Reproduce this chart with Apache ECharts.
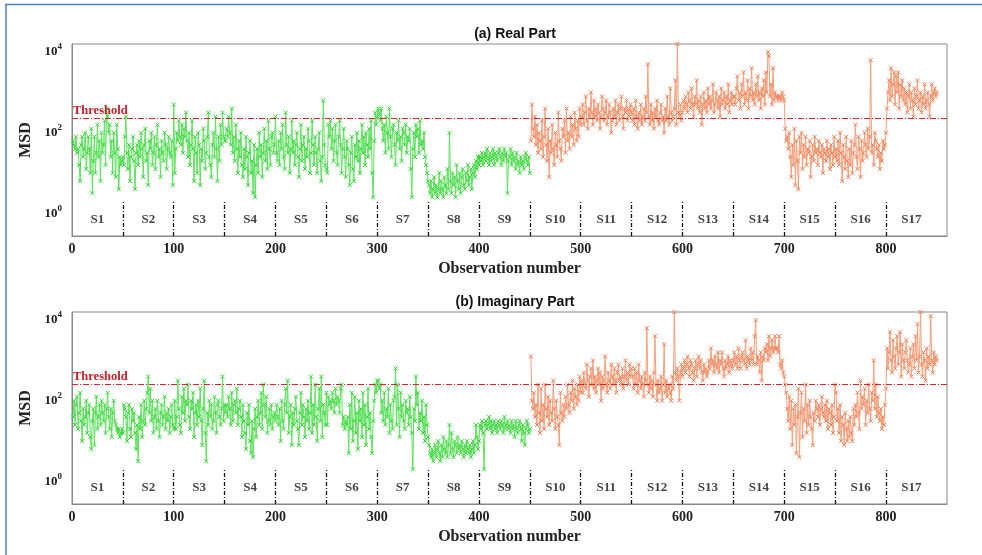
<!DOCTYPE html>
<html>
<head>
<meta charset="utf-8">
<script src="https://cdn.jsdelivr.net/npm/echarts@6/dist/echarts.min.js"></script>
<style>
html,body{margin:0;padding:0;background:#fff;}
#main{width:982px;height:555px;}
</style>
</head>
<body>
<div id="main"></div>
<script>
// 每段50个观测值, 数值为 log10(MSD)
var segNames = ['S1','S2','S3','S4','S5','S6','S7','S8','S9','S10','S11','S12','S13','S14','S15','S16','S17'];
var segLen = 50;
var xTicks = [0,100,200,300,400,500,600,700,800];
var yTicks = [0,2,4]; // 10^0, 10^2, 10^4
var thresholdLog = [2.36, 2.42]; // (a) (b)

var realMsdLog = [
 [1.8,1.7,1.6,1.9,1.5,1.6,1.2,0.8,1.7,1.9,1.4,1.6,2.0,1.1,1.5,1.9,1.6,1.0,2.1,0.5,1.3,1.9,1.0,1.5,2.2,1.4,1.8,0.8,2.0,1.5,1.7,2.3,1.2,2.6,2.4,2.0,2.2,1.4,1.8,1.0,2.0,1.5,0.9,2.2,1.6,0.6,1.4,1.2,1.3,1.4],
 [1.2,1.9,2.4,1.5,1.1,1.7,0.8,1.4,1.6,1.9,1.3,0.6,1.5,1.7,1.2,1.8,1.4,2.0,1.6,0.9,1.7,2.1,1.3,1.5,0.7,1.8,1.6,2.0,1.2,1.5,1.9,1.1,1.7,2.2,1.4,1.6,0.9,1.8,1.5,1.3,2.0,1.7,1.1,1.6,1.9,1.5,1.4,1.8,0.7,2.7],
 [1.0,1.6,2.0,1.8,2.3,1.9,1.7,2.2,1.5,2.1,1.9,2.5,1.8,1.4,2.0,1.2,1.7,2.3,1.6,0.8,1.9,1.5,1.0,2.0,1.7,0.7,1.6,1.3,2.1,1.8,1.1,1.5,1.9,2.5,1.4,1.2,0.9,1.7,2.0,1.4,2.4,1.6,0.8,1.9,1.3,2.2,1.7,2.5,1.9,1.8],
 [1.8,2.1,1.9,2.4,2.0,1.7,2.6,1.5,1.9,1.3,2.2,1.6,1.0,1.8,1.4,2.0,1.2,0.9,1.6,1.1,1.9,1.4,0.7,1.5,1.8,1.0,1.3,0.5,1.7,0.4,1.2,1.6,1.0,2.0,1.4,1.7,0.9,1.5,2.1,1.3,1.8,1.1,2.3,1.6,1.2,1.9,2.0,1.5,1.7,2.4],
 [1.5,1.3,1.8,1.2,2.0,1.6,2.2,1.4,1.1,2.5,1.7,1.5,1.9,1.0,1.6,2.3,1.5,1.8,1.2,1.7,2.0,1.4,0.9,1.6,2.2,1.3,1.7,1.9,1.1,1.6,1.4,2.1,1.8,1.0,1.5,2.3,1.7,1.2,1.9,1.5,1.0,1.6,2.0,1.3,0.8,1.4,2.8,1.7,1.2,1.1],
 [1.0,2.2,1.9,2.3,1.6,2.1,1.3,1.8,2.2,1.5,1.2,1.9,2.3,1.7,1.0,1.6,2.1,1.4,0.9,1.8,1.6,1.2,0.7,1.5,1.9,1.1,0.8,1.7,1.4,2.0,1.3,1.8,1.0,1.6,2.2,1.5,1.9,1.2,2.0,1.7,1.4,2.1,1.6,2.3,1.0,0.4,1.8,2.5,2.2,2.4],
 [2.6,2.5,2.3,2.6,2.1,1.8,2.2,1.5,2.4,2.0,1.6,2.6,1.9,1.4,2.1,2.2,1.7,1.2,2.0,1.8,2.3,1.6,1.9,1.3,2.1,2.0,1.7,2.2,1.5,1.9,1.8,2.1,1.1,0.4,1.6,2.0,1.4,2.2,1.9,2.1,1.5,2.3,1.7,1.8,1.6,2.0,1.4,1.2,1.0,0.8],
 [0.7,0.5,0.8,0.4,0.6,0.9,0.5,0.7,0.4,0.6,1.0,0.5,0.8,0.6,0.4,0.9,0.7,0.5,1.1,0.6,2.0,0.8,0.5,1.0,0.7,0.9,0.4,1.2,0.8,0.6,1.0,0.5,0.9,1.1,0.7,0.6,1.0,0.8,1.2,0.7,0.9,1.1,0.6,1.0,1.2,0.9,1.3,1.1,1.4,1.2],
 [1.4,1.3,1.5,1.2,1.4,1.5,1.3,1.6,1.4,1.2,1.5,1.3,1.4,1.6,1.2,1.5,1.4,1.3,1.5,1.6,1.4,1.2,1.5,1.3,1.6,1.4,1.5,0.5,1.3,1.4,1.6,1.2,1.5,1.3,1.4,1.1,1.5,1.2,1.3,1.0,1.4,1.2,1.3,1.1,1.4,1.5,1.3,1.2,1.4,1.0],
 [1.8,2.7,2.1,1.9,2.4,1.7,2.2,1.5,2.0,1.8,1.6,2.3,1.4,1.9,2.6,1.7,1.3,2.1,0.9,1.8,1.5,2.2,1.6,1.2,2.0,1.7,1.4,2.5,1.8,1.6,1.3,2.1,1.9,2.3,1.5,2.6,1.8,2.0,1.6,2.4,1.9,2.2,1.7,2.5,2.1,1.8,2.3,1.9,2.6,2.2],
 [2.4,2.7,2.2,2.5,2.9,2.3,2.1,2.6,2.4,3.0,2.5,2.2,2.8,2.4,2.6,2.3,2.7,2.5,2.1,2.4,2.9,2.6,2.3,2.5,2.8,2.2,2.4,2.7,2.5,2.0,2.3,2.6,2.4,2.8,2.2,2.5,2.7,2.3,2.6,2.9,2.4,2.1,2.6,2.5,2.8,2.3,2.6,2.4,2.7,2.5],
 [2.3,2.6,2.2,2.8,2.4,2.1,2.5,2.3,2.7,2.2,2.4,2.6,2.3,2.9,2.5,3.7,2.4,2.2,2.7,2.3,2.5,2.1,2.6,2.4,2.8,2.3,2.2,2.5,2.7,2.3,2.4,2.0,2.6,2.3,2.9,2.4,2.2,3.1,2.5,2.3,2.4,2.6,3.3,2.2,4.2,2.5,2.4,2.7,2.3,2.5],
 [2.8,2.6,2.9,2.7,2.5,3.0,2.8,2.6,3.1,2.7,2.4,2.9,2.7,3.3,2.6,2.8,2.5,2.9,2.2,2.7,3.0,2.6,2.8,2.5,3.1,2.7,2.9,2.6,2.8,3.2,2.5,2.7,3.0,2.8,2.6,2.9,2.4,3.1,2.7,2.8,3.0,2.6,2.9,2.7,3.2,2.5,2.8,3.0,2.7,2.9],
 [2.9,2.7,3.1,3.4,2.8,3.0,2.6,3.2,2.9,3.5,2.7,3.0,2.8,3.3,2.6,3.1,2.9,3.6,2.8,3.0,2.7,3.2,2.9,3.4,2.8,3.0,2.6,3.1,2.9,3.3,2.7,3.5,3.0,4.0,3.9,2.9,3.2,2.7,3.6,2.8,3.0,2.9,2.9,2.8,2.9,2.9,2.8,3.0,2.9,2.8],
 [2.1,1.8,1.9,1.6,2.0,1.4,0.9,1.7,1.2,2.1,0.7,1.8,1.3,0.6,1.9,1.5,2.0,1.1,1.7,1.4,1.9,1.2,1.6,1.5,1.8,0.9,1.4,1.7,1.3,1.9,1.5,1.6,1.2,1.8,1.5,1.4,1.7,1.0,1.6,1.5,1.3,1.8,1.4,1.6,1.1,1.7,1.5,1.2,1.9,1.4],
 [1.6,1.3,1.8,1.2,2.0,1.5,0.8,1.7,1.4,1.1,1.9,1.3,0.9,1.6,1.2,1.8,1.0,1.5,1.7,2.2,1.4,1.1,1.9,1.6,0.9,1.8,1.3,1.5,2.0,1.7,1.4,2.1,1.6,1.9,3.8,1.5,1.7,1.2,2.0,1.8,1.6,1.4,1.7,1.1,1.5,1.3,1.8,1.6,1.7,2.0],
 [2.6,3.0,3.3,2.8,3.6,2.9,3.2,3.5,2.7,3.4,3.0,3.5,2.6,3.2,2.9,3.3,2.8,3.1,2.7,3.0,2.5,2.9,3.2,2.6,3.0,2.8,2.4,3.1,2.7,2.9,3.3,2.6,2.8,3.0,2.5,2.9,2.7,3.2,2.6,2.8,3.0,2.7,2.4,2.9,3.2,2.8,3.0,3.1,2.9,3.0]
];

var imagMsdLog = [
 [1.6,2.0,1.4,1.9,2.1,1.3,1.7,2.2,1.5,1.0,1.8,1.4,1.6,2.0,1.2,1.7,1.9,1.1,0.8,1.5,1.8,0.9,1.7,2.1,1.3,1.6,1.9,1.4,2.0,1.7,1.5,1.9,1.2,1.8,2.2,1.6,1.3,1.8,1.1,1.7,2.0,1.5,1.4,1.3,1.2,1.3,1.1,1.2,1.3,1.2],
 [1.9,1.8,1.6,1.0,1.7,1.9,1.3,1.1,1.8,1.5,1.7,1.2,0.8,1.4,0.5,1.6,1.3,1.9,1.1,1.5,2.0,1.4,1.8,2.2,2.6,1.7,2.3,1.5,2.0,1.2,1.6,1.8,1.3,2.0,1.5,1.1,1.7,1.9,1.4,1.6,2.1,1.3,1.7,1.5,1.8,1.2,1.6,1.9,1.4,1.3],
 [2.0,1.3,1.6,2.5,1.8,1.4,1.2,2.1,1.7,2.3,1.5,2.0,1.9,2.4,1.6,1.3,2.0,1.8,2.2,1.1,1.7,1.9,1.4,2.0,1.6,2.3,1.5,0.9,1.8,2.5,1.2,0.5,1.7,1.4,2.0,1.6,1.9,1.3,1.5,2.1,1.7,1.2,1.9,2.0,1.6,1.4,1.8,2.6,1.5,1.9],
 [1.7,1.9,1.6,2.1,1.8,1.4,2.2,1.5,1.9,2.0,1.7,2.3,1.4,1.8,2.0,1.6,1.1,1.9,1.5,1.2,0.8,1.7,1.4,1.9,1.0,0.7,1.5,0.6,1.3,1.8,1.1,1.6,2.0,1.4,1.7,2.2,1.3,2.4,1.9,1.6,2.1,1.2,1.5,1.8,1.4,1.9,1.3,1.6,1.7,1.5],
 [1.9,1.6,1.4,1.8,1.0,2.0,1.5,1.3,1.9,2.3,1.7,2.5,1.2,1.6,1.9,0.9,1.7,1.4,1.8,2.1,1.5,1.3,0.9,1.7,2.2,1.4,1.9,1.6,1.1,1.8,1.5,2.0,1.3,1.7,2.6,1.2,1.9,1.4,2.4,1.6,1.0,1.8,2.3,1.5,2.6,1.1,1.9,1.7,1.4,2.2],
 [1.4,2.1,1.9,2.0,1.8,2.2,2.0,1.7,2.3,1.9,2.1,2.0,1.7,2.3,2.4,1.4,1.6,1.3,1.5,1.4,1.6,0.7,1.9,1.3,2.2,1.0,1.5,2.1,1.2,1.7,0.8,2.0,1.5,1.8,1.1,2.2,1.4,1.9,0.9,1.6,2.3,1.3,1.7,1.1,0.7,1.5,2.0,2.4,2.2,2.5],
 [2.5,2.3,2.4,1.7,2.0,1.5,2.2,1.4,1.8,1.6,2.3,1.2,1.9,1.5,1.3,2.0,2.1,2.8,1.4,2.4,1.8,1.1,2.2,1.6,1.9,1.5,1.3,2.0,1.7,1.8,1.4,2.1,1.6,1.2,0.3,1.8,1.5,2.6,1.9,2.2,1.3,1.7,1.5,2.0,1.2,1.6,1.0,1.9,1.4,1.1],
 [0.9,0.7,0.6,0.8,0.5,0.7,0.9,0.6,0.8,1.0,0.7,0.5,0.9,0.6,1.1,0.8,0.7,1.0,0.6,0.9,1.4,0.7,1.2,0.8,0.6,1.0,0.9,0.7,1.1,0.8,0.9,0.7,1.0,0.8,0.6,0.9,0.7,1.0,0.8,0.7,0.9,0.6,0.8,1.0,0.7,0.9,1.4,1.1,0.8,1.0],
 [1.4,1.3,1.5,1.2,0.3,1.4,1.5,1.3,1.4,1.6,1.3,1.5,1.2,1.4,1.5,1.3,1.4,1.2,1.5,1.4,1.3,1.5,1.4,1.2,1.6,1.3,1.4,1.5,1.3,1.4,1.2,1.5,1.3,1.4,1.1,1.5,1.3,1.2,1.4,1.5,1.3,1.0,1.4,1.2,0.9,1.3,1.5,1.4,1.2,1.3],
 [3.1,2.0,1.8,2.2,1.6,1.9,1.4,2.4,1.7,1.2,2.3,1.5,1.9,1.3,2.4,1.8,1.6,2.1,1.4,2.0,1.7,1.5,2.5,1.8,1.3,2.0,1.6,1.4,0.9,2.2,1.7,1.5,1.9,1.6,2.1,1.8,2.4,1.9,1.7,2.2,2.0,2.5,1.8,2.3,2.1,1.9,2.4,2.0,2.6,2.2],
 [2.5,2.2,2.7,2.4,2.3,2.9,2.5,2.1,2.6,2.8,2.4,3.0,2.3,2.6,2.2,2.5,2.8,2.4,2.7,2.0,2.6,2.3,2.5,3.1,2.4,2.2,2.7,2.5,2.3,2.9,2.6,2.4,2.8,2.5,2.2,2.7,2.9,2.5,2.6,2.4,2.8,2.3,2.6,3.0,2.5,2.7,2.4,2.9,2.6,2.8],
 [2.6,2.3,2.8,2.4,2.7,2.2,2.9,2.5,2.3,2.6,2.4,2.1,2.7,2.5,3.8,2.4,2.2,2.6,2.3,2.5,2.1,2.7,3.6,2.4,2.0,2.5,2.2,2.3,2.6,2.0,2.4,3.4,2.2,2.5,2.1,2.3,2.4,2.2,2.0,2.6,2.3,4.2,2.7,2.5,2.8,2.6,2.0,2.7,2.9,2.6],
 [2.8,3.0,2.7,2.9,3.1,2.8,2.6,3.0,2.9,2.7,2.5,2.8,3.0,2.6,2.9,3.1,2.8,3.0,2.7,2.5,2.9,2.7,2.8,2.6,2.7,3.0,2.8,3.3,2.9,3.0,2.7,3.1,2.9,2.8,3.2,2.7,3.0,2.9,3.2,2.8,2.6,3.0,2.8,2.9,3.1,2.7,3.0,2.9,2.8,3.0],
 [3.2,2.9,3.1,2.8,3.3,3.0,2.8,3.1,3.2,3.0,2.9,3.5,2.8,3.1,3.0,2.9,3.3,3.0,3.2,2.9,3.6,4.0,2.9,3.1,3.0,2.7,3.2,2.5,3.1,3.0,3.3,3.2,3.4,3.0,3.6,3.1,3.3,3.5,3.2,3.3,3.6,3.3,3.3,3.2,3.6,2.9,2.8,3.0,2.7,2.6],
 [2.4,2.2,1.8,1.5,2.1,1.3,2.0,0.9,1.8,1.4,1.9,0.7,1.6,2.3,0.6,1.7,2.2,1.1,1.8,1.5,2.4,1.2,1.9,1.4,2.0,1.6,1.3,0.9,1.7,1.5,2.0,1.8,1.6,1.9,1.4,1.8,2.1,1.7,1.6,1.9,1.5,2.0,1.3,1.8,1.7,1.4,1.9,1.2,1.6,2.4],
 [2.2,1.5,1.8,1.2,1.9,1.0,1.6,1.4,0.9,1.7,1.3,1.0,1.5,1.1,1.6,1.2,1.0,1.8,1.4,1.9,1.6,2.2,1.7,1.3,2.5,1.8,2.1,1.9,2.3,1.4,2.0,1.7,2.4,1.8,1.5,2.2,2.0,3.0,1.8,2.4,1.6,2.1,1.7,1.5,1.8,1.3,1.6,1.4,1.9,2.3],
 [3.3,2.8,3.2,3.7,3.0,2.7,3.5,3.1,2.8,3.3,3.6,2.9,3.2,3.7,2.6,3.4,3.0,2.8,3.2,3.5,3.0,2.7,2.9,3.3,2.6,3.1,3.4,2.8,3.6,3.0,3.9,2.7,3.1,4.2,2.9,2.6,3.2,3.0,2.5,3.3,2.8,3.1,2.9,4.1,3.0,2.7,3.2,2.9,3.1,3.0]
];

var yMin = -0.56, yMax = 4.2;
var serif = 'Liberation Serif';
var greenLine = '#5fe25f', greenMark = '#35d435';
var orangeLine = '#f4a07c', orangeMark = '#ee7e52';
var xSymbol = 'path://M0,0L10,10M10,0L0,10';

// 把分段数据拼成 [观测号, 值]
function buildPoints(segs, from, to) {
    var pts = [];
    for (var s = from; s < to; s++) {
        for (var i = 0; i < segs[s].length; i++) {
            pts.push([s * segLen + i + 1, segs[s][i]]);
        }
    }
    return pts;
}

function lineSeries(idx, segs, from, to, lc, mc) {
    return {
        type: 'line', xAxisIndex: idx, yAxisIndex: idx,
        data: buildPoints(segs, from, to),
        symbol: xSymbol, symbolSize: 4, showSymbol: true,
        lineStyle: { color: lc, width: 1 },
        itemStyle: { color: mc, borderColor: mc, borderWidth: 1 },
        animation: false, silent: true, z: 3
    };
}

function decoSeries(idx) {
    var dividers = [];
    for (var k = 1; k < segNames.length; k++) {
        dividers.push([{ coord: [k * segLen, yMin] }, { coord: [k * segLen, 0.28] }]);
    }
    var labels = segNames.map(function (n, k) { return { name: n, value: [k * segLen + segLen / 2, -0.16] }; });
    return {
        type: 'scatter', xAxisIndex: idx, yAxisIndex: idx,
        data: labels, symbolSize: 0, silent: true, animation: false,
        label: { show: true, position: 'inside', formatter: '{b}', fontFamily: serif, fontWeight: 'bold', fontSize: 13, color: '#111' },
        markLine: {
            silent: true, symbol: 'none', animation: false,
            label: { show: false },
            lineStyle: { color: '#111', width: 1.3, type: [4, 2, 1, 2] },
            data: dividers.concat([{
                yAxis: thresholdLog[idx],
                lineStyle: { color: '#d8232a', width: 1.2, type: [6, 2, 1, 2] },
                label: { show: true, position: 'insideStartTop', formatter: 'Threshold', fontFamily: serif, fontWeight: 'bold', fontSize: 12.5, color: '#c4202a', distance: [1, 1] }
            }])
        }
    };
}

function xAxisFor(idx) {
    return {
        type: 'value', gridIndex: idx, min: 0, max: 860,
        axisLine: { onZero: false, lineStyle: { color: '#888' } }, axisTick: { show: false }, splitLine: { show: false },
        axisLabel: { customValues: xTicks, fontFamily: serif, fontWeight: 'bold', fontSize: 14, color: '#222', margin: 6 },
        name: 'Observation number', nameLocation: 'middle', nameGap: 25,
        nameTextStyle: { fontFamily: serif, fontWeight: 'bold', fontSize: 16, color: '#222' }
    };
}

function yAxisFor(idx) {
    return {
        type: 'value', gridIndex: idx, min: yMin, max: yMax,
        axisLine: { onZero: false, lineStyle: { color: '#888' } }, axisTick: { show: false }, splitLine: { show: false },
        axisLabel: {
            customValues: yTicks, margin: 10,
            formatter: function (v) { return '{b|10}{s|' + v + '}'; },
            rich: {
                b: { fontFamily: serif, fontWeight: 'bold', fontSize: 13, color: '#222' },
                s: { fontFamily: serif, fontWeight: 'bold', fontSize: 9, color: '#222', padding: [0, 0, 10, 0] }
            }
        },
        name: 'MSD', nameLocation: 'middle', nameGap: 32, nameRotate: 90,
        nameTextStyle: { fontFamily: serif, fontWeight: 'bold', fontSize: 16, color: '#222' }
    };
}

var myChart = echarts.init(document.getElementById('main'));
var option = {
    backgroundColor: '#fff',
    title: [
        { text: '(a) Real Part', left: 510, top: 22, textAlign: 'center', textStyle: { fontFamily: 'Liberation Sans', fontWeight: 'bold', fontSize: 14, color: '#111' } },
        { text: '(b) Imaginary Part', left: 510, top: 290, textAlign: 'center', textStyle: { fontFamily: 'Liberation Sans', fontWeight: 'bold', fontSize: 14, color: '#111' } }
    ],
    grid: [
        { left: 72, top: 44, width: 875, height: 192, show: true, borderColor: '#888', borderWidth: 1 },
        { left: 72, top: 312, width: 875, height: 192, show: true, borderColor: '#888', borderWidth: 1 }
    ],
    xAxis: [xAxisFor(0), xAxisFor(1)],
    yAxis: [yAxisFor(0), yAxisFor(1)],
    graphic: [
        { type: 'line', shape: { x1: 5, y1: 4.5, x2: 982, y2: 4.5 }, style: { stroke: '#4d7fd1', lineWidth: 1.5 }, silent: true },
        { type: 'line', shape: { x1: 6, y1: 4, x2: 6, y2: 555 }, style: { stroke: '#4d7fd1', lineWidth: 1.5 }, silent: true }
    ],
    series: [
        lineSeries(0, realMsdLog, 0, 9, greenLine, greenMark),
        lineSeries(0, realMsdLog, 9, 17, orangeLine, orangeMark),
        lineSeries(1, imagMsdLog, 0, 9, greenLine, greenMark),
        lineSeries(1, imagMsdLog, 9, 17, orangeLine, orangeMark),
        decoSeries(0),
        decoSeries(1)
    ]
};
myChart.setOption(option);
window.addEventListener('resize', function () {
    myChart.resize();
});
</script>
</body>
</html>
